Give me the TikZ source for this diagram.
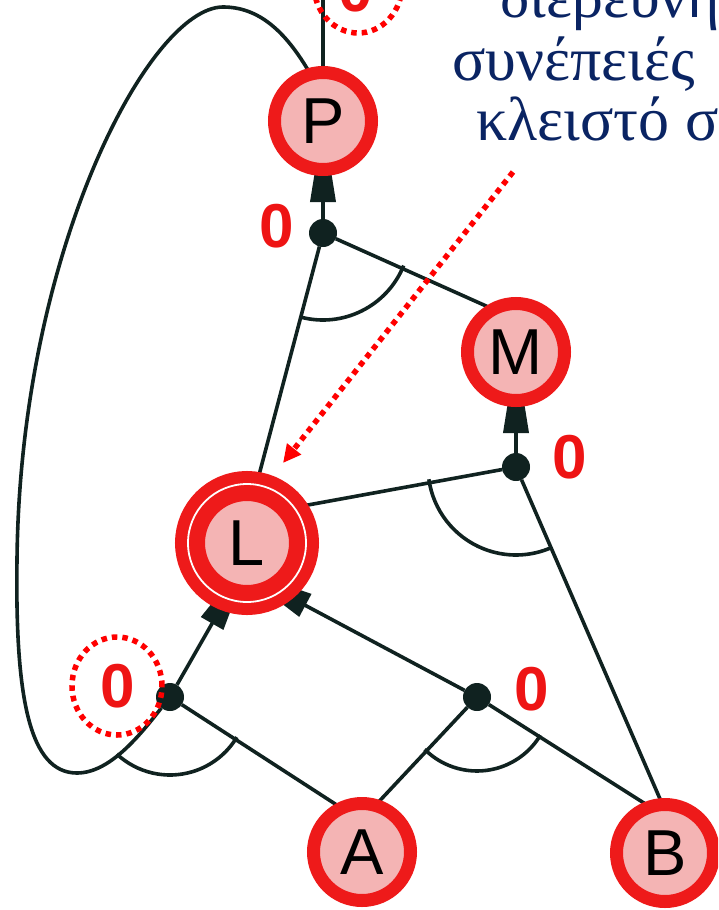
\documentclass[tikz,border=0pt]{standalone}
\usepackage{fontspec}
\setmainfont{Liberation Serif}
\newfontfamily\arialf{Liberation Sans}
\usetikzlibrary{arrows.meta,backgrounds}
\definecolor{ringred}{HTML}{EE1A1A}
\definecolor{pinkfill}{HTML}{F4B4B4}
\definecolor{edgecol}{HTML}{102220}
\definecolor{navy}{HTML}{0A2463}
\definecolor{zerored}{HTML}{EE1414}
\definecolor{hintred}{HTML}{FF0000}
\begin{document}
\begin{tikzpicture}[x=1pt,y=-1pt,
 state/.style={circle, draw=ringred, fill=pinkfill, line width=13pt, minimum size=97pt, inner sep=0pt, outer sep=0pt, font=\arialf\fontsize{65}{65}\selectfont, text=black},
 goal/.style={state, line width=30pt, minimum size=114pt},
 junc/.style={circle, fill=edgecol, minimum size=28pt, inner sep=0pt, outer sep=0pt},
 zero/.style={font=\arialf\bfseries\fontsize{62}{62}\selectfont, text=zerored, inner sep=0pt},
 link/.style={draw=edgecol, line width=3.6pt},
 implies/.style={link, -{Triangle[length=81pt,width=25pt]}},
 hint/.style={draw=hintred, line width=5.5pt, dash pattern=on 5.5pt off 5pt},
 greek/.style={font=\fontsize{62}{62}\selectfont, text=navy, anchor=base west, inner sep=0pt}
]
\useasboundingbox (0,0) rectangle (718,910);
\clip (0,0) rectangle (718,910);
% states
\node[state] (P) at (323,121) {P};
\node[state] (M) at (516,352) {M};
\node[goal]  (L) at (247,543) {L};
\node[state] (A) at (362,852) {A};
\node[state] (B) at (665,853) {B};
\draw[white, line width=1.8pt] (L.center) circle[radius=59pt];
% junctions
\node[junc] (jp) at (323,233) {};
\node[junc] (jm) at (516,467) {};
\node[junc] (jl) at (170,697) {};
\node[junc] (jr) at (477,697) {};
\coordinate (top) at (323,-5);
\begin{pgfonlayer}{background}
\draw[implies] (jp) -- (P.center);
\draw[link] (jp) -- (L.81);
\draw[link] (jp) -- (M.118);
\draw[implies] (jm) -- (M.center);
\draw[link] (jm) -- (L.38);
\draw[link] (jm) -- (B.93);
\draw[implies, shorten >=-50pt] (jl) -- (L.250);
\draw[link] (jl) -- (A.115);
\draw[implies, shorten >=-50pt] (jr) -- (L.303);
\draw[link] (jr) -- (A.74);
\draw[link] (jr) -- (B.108);
\draw[link] (P.90) -- (top);
\draw[link] (P.105) .. controls (285,30) and (258,7) .. (223,7)
  .. controls (150,7) and (20,250) .. (17,560)
  .. controls (15,700) and (30,773) .. (77,773)
  .. controls (110,773) and (140,735) .. (jl);
% and-arcs
\draw[link] (jp.center) ++(255:87pt) arc[start angle=255, end angle=338, radius=87pt];
\draw[link] (jm.center) ++(188:88pt) arc[start angle=188, end angle=294, radius=88pt];
\draw[link] (jl.center) ++(227:78pt) arc[start angle=227, end angle=329, radius=78pt];
\draw[link] (jr.center) ++(225:74pt) arc[start angle=225, end angle=329, radius=74pt];
\end{pgfonlayer}
% labels
\node[zero] (z1) at (277,226) {0};
\node[zero] (z2) at (570,457) {0};
\node[zero] (z3) at (118,686) {0};
\node[zero] (z4) at (532,689) {0};
\node[zero] (z5) at (356,-10) {0};
% hints
\draw[hint] (117,686) ellipse[x radius=45pt, y radius=49pt];
\draw[hint] (358,-15) ellipse[x radius=44pt, y radius=48pt];
\coordinate (hs) at (513,172);
\coordinate (he) at (283,463);
\draw[hint, -{Triangle[length=18pt,width=17pt]}] (hs) -- (he);
% text
\node[greek] (t1) at (500,17) {διερευνή};
\node[greek] (t2) at (452,80) {συνέπειές};
\node[greek] (t3) at (476,140) {κλειστό σ};
\end{tikzpicture}
\end{document}
